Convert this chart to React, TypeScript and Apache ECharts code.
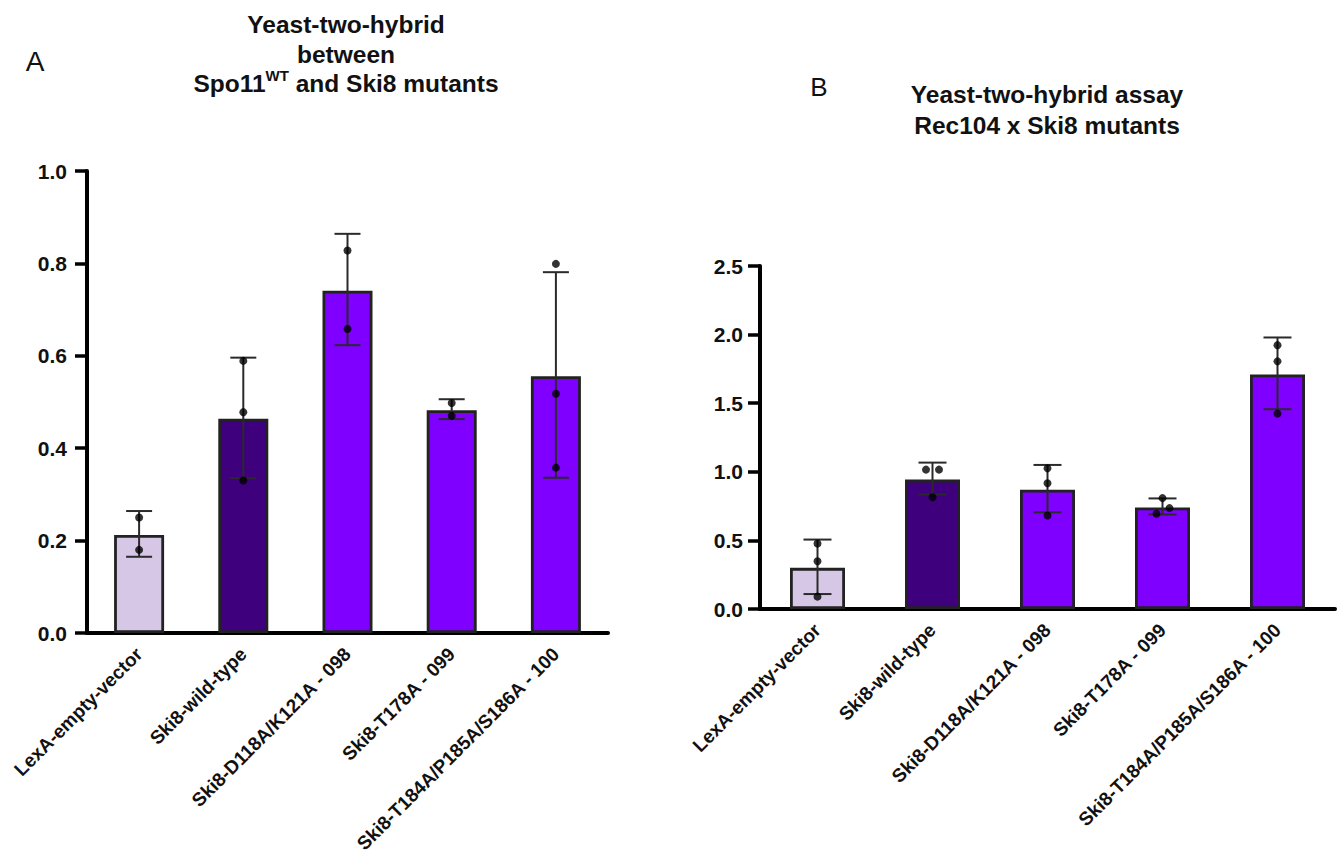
import React, { useEffect, useRef } from "react";
import * as echarts from "echarts";

const categories = [
  "LexA-empty-vector",
  "Ski8-wild-type",
  "Ski8-D118A/K121A - 098",
  "Ski8-T178A - 099",
  "Ski8-T184A/P185A/S186A - 100",
];

// Panel A: Spo11WT x Ski8 mutants
const meansA = [0.212, 0.464, 0.741, 0.482, 0.556];
const lowA = [0.165, 0.335, 0.623, 0.463, 0.336];
const highA = [0.264, 0.596, 0.864, 0.506, 0.781];
const pointsA = [
  [0.25, 0.18],
  [0.589, 0.478, 0.33],
  [0.828, 0.658],
  [0.498, 0.47],
  [0.799, 0.518, 0.358],
];
const offsetsA = [
  [0, 0],
  [0, 0, 0],
  [0, 0],
  [0, 0],
  [0, 0, 0],
];

// Panel B: Rec104 x Ski8 mutants
const meansB = [0.3, 0.943, 0.869, 0.74, 1.71];
const lowB = [0.109, 0.835, 0.704, 0.689, 1.456];
const highB = [0.506, 1.067, 1.05, 0.806, 1.979];
const pointsB = [
  [0.477, 0.348, 0.09],
  [1.016, 1.016, 0.815],
  [1.025, 0.917, 0.682],
  [0.808, 0.735, 0.694],
  [1.923, 1.805, 1.424],
];
const offsetsB = [
  [0, 0, 0],
  [-6.5, 6.5, 0],
  [0, 0, 0],
  [0, 7, -6],
  [0, 0, 0],
];

const ticksA = { min: 0, max: 1.0, interval: 0.2 };
const ticksB = { min: 0, max: 2.5, interval: 0.5 };

const barColors = ["#D7C7E6", "#3F007D", "#7F00FF", "#7F00FF", "#7F00FF"];

const FONT = "'Liberation Sans', Arial, Helvetica, sans-serif";

function barSeries(means: number[], axis: number, width: number) {
  return {
    type: "bar",
    xAxisIndex: axis,
    yAxisIndex: axis,
    barWidth: width,
    data: means.map((v, i) => ({
      value: v,
      itemStyle: { color: barColors[i], borderColor: "#222222", borderWidth: 2.8 },
    })),
    z: 2,
  };
}

function errorSeries(low: number[], high: number[], axis: number, whisker: number) {
  return {
    type: "custom",
    xAxisIndex: axis,
    yAxisIndex: axis,
    z: 3,
    encode: { x: 0, y: [1, 2] },
    data: low.map((l, i) => [i, l, high[i]]),
    renderItem: (params: any, api: any) => {
      const x = api.value(0);
      const pLow = api.coord([x, api.value(1)]);
      const pHigh = api.coord([x, api.value(2)]);
      const hw = whisker / 2;
      const style = { stroke: "#2a2a2a", lineWidth: 2 };
      return {
        type: "group",
        children: [
          { type: "line", shape: { x1: pLow[0], y1: pLow[1], x2: pHigh[0], y2: pHigh[1] }, style },
          { type: "line", shape: { x1: pHigh[0] - hw, y1: pHigh[1], x2: pHigh[0] + hw, y2: pHigh[1] }, style },
          { type: "line", shape: { x1: pLow[0] - hw, y1: pLow[1], x2: pLow[0] + hw, y2: pLow[1] }, style },
        ],
      };
    },
  };
}

function pointSeries(points: number[][], offsets: number[][], axis: number) {
  const data: any[] = [];
  points.forEach((arr, i) => {
    arr.forEach((v, j) => {
      data.push({ value: [i, v], symbolOffset: [offsets[i][j], 0] });
    });
  });
  return {
    type: "scatter",
    xAxisIndex: axis,
    yAxisIndex: axis,
    symbol: "circle",
    symbolSize: 8,
    itemStyle: { color: "#000000" },
    z: 4,
    data,
  };
}

function xAxis(grid: number, fontSize: number) {
  return {
    type: "category",
    gridIndex: grid,
    data: categories,
    boundaryGap: true,
    axisLine: { lineStyle: { color: "#000", width: 4 } },
    axisTick: { alignWithLabel: true, length: 12, lineStyle: { color: "#000", width: 3.5 } },
    axisLabel: {
      interval: 0,
      rotate: 45,
      margin: 18,
      color: "#111",
      fontWeight: "bold",
      fontSize,
      fontFamily: FONT,
    },
    splitLine: { show: false },
  };
}

function yAxis(grid: number, t: { min: number; max: number; interval: number }, margin: number) {
  return {
    type: "value",
    gridIndex: grid,
    min: t.min,
    max: t.max,
    interval: t.interval,
    axisLine: { show: true, lineStyle: { color: "#000", width: 4 } },
    axisTick: { show: true, length: 12, lineStyle: { color: "#000", width: 3.5 } },
    axisLabel: {
      margin,
      color: "#111",
      fontWeight: "bold",
      fontSize: 21,
      fontFamily: FONT,
      formatter: (v: number) => v.toFixed(1),
    },
    splitLine: { show: false },
  };
}

export default function App() {
  const ref = useRef<HTMLDivElement>(null);

  useEffect(() => {
    if (!ref.current) return;
    const chart = echarts.init(ref.current, undefined, { renderer: "svg" });
    const titleStyle = { fontSize: 24.5, fontWeight: "bold", fontFamily: FONT, fill: "#111", align: "center", verticalAlign: "middle" };
    chart.setOption({
      animation: false,
      backgroundColor: "#ffffff",
      grid: [
        { left: 87, top: 171, width: 521, height: 462 },
        { left: 760, top: 266, width: 575, height: 343 },
      ],
      xAxis: [xAxis(0, 19), xAxis(1, 19)],
      yAxis: [yAxis(0, ticksA, 20), yAxis(1, ticksB, 17)],
      series: [
        barSeries(meansA, 0, 50),
        errorSeries(lowA, highA, 0, 26),
        pointSeries(pointsA, offsetsA, 0),
        barSeries(meansB, 1, 55),
        errorSeries(lowB, highB, 1, 28),
        pointSeries(pointsB, offsetsB, 1),
      ],
      graphic: [
        { type: "text", x: 35, y: 61, style: { text: "A", fontSize: 28, fontFamily: FONT, fill: "#111", align: "center", verticalAlign: "middle" } },
        { type: "text", x: 819, y: 87, style: { text: "B", fontSize: 26, fontFamily: FONT, fill: "#111", align: "center", verticalAlign: "middle" } },
        { type: "text", x: 346, y: 24, style: { ...titleStyle, text: "Yeast-two-hybrid" } },
        { type: "text", x: 346, y: 54, style: { ...titleStyle, text: "between" } },
        {
          type: "text",
          x: 346,
          y: 82,
          style: {
            ...titleStyle,
            text: "{n|Spo11}{s|WT}{n| and Ski8 mutants}",
            rich: {
              n: { fontSize: 24.5, fontWeight: "bold", fontFamily: FONT, fill: "#111", lineHeight: 28, verticalAlign: "bottom" },
              s: { fontSize: 15, fontWeight: "bold", fontFamily: FONT, fill: "#111", lineHeight: 28, verticalAlign: "top" },
            },
          },
        },
        { type: "text", x: 1047, y: 94, style: { ...titleStyle, text: "Yeast-two-hybrid assay" } },
        { type: "text", x: 1047, y: 125, style: { ...titleStyle, text: "Rec104 x Ski8 mutants" } },
      ],
    });
    return () => chart.dispose();
  }, []);

  return (
    <div
      ref={ref}
      style={{ position: "absolute", left: 0, top: 0, width: 1341, height: 859, background: "#fff" }}
    />
  );
}
